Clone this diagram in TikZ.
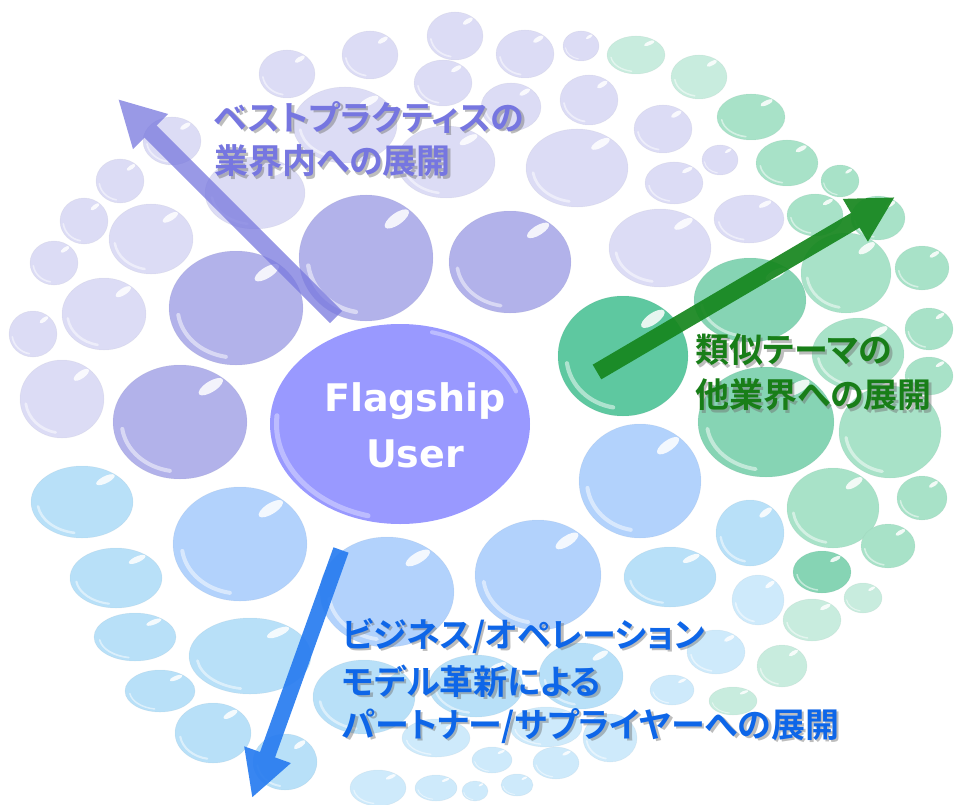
\documentclass[tikz,border=0pt]{standalone}
\usepackage{fontspec}
\usetikzlibrary{arrows.meta}
\newfontfamily\jpfont{Noto Sans CJK JP Bold}[RawFeature=+palt]
\newfontfamily\flagfont{DejaVu Sans}

% bubble palette
\definecolor{pl}{RGB}{220,220,245}
\definecolor{pm}{RGB}{178,178,234}
\definecolor{core}{RGB}{153,153,255}
\definecolor{gd}{RGB}{94,200,160}
\definecolor{gm}{RGB}{134,212,180}
\definecolor{gl}{RGB}{168,226,200}
\definecolor{gp}{RGB}{200,236,222}
\definecolor{bb}{RGB}{178,210,252}
\definecolor{bl}{RGB}{184,224,248}
\definecolor{bp}{RGB}{206,234,251}
% arrows and labels
\definecolor{arrP}{RGB}{120,120,222}
\definecolor{arrG}{RGB}{22,134,30}
\definecolor{arrB}{RGB}{40,124,240}
\definecolor{txtP}{RGB}{118,118,224}
\definecolor{txtG}{RGB}{24,126,24}
\definecolor{txtB}{RGB}{14,102,232}
\definecolor{shade}{RGB}{110,110,110}

% glossy bubble: centre x, centre y, x radius, y radius, colour
\newcommand\bubble[5]{%
  \begin{scope}[shift={(#1,#2)},xscale=#3,yscale=#4]
    \fill[#5] (0,0) circle[radius=1];
    \draw[white,opacity=.5,line width=#4*0.07pt,line cap=round]
      (100:.87) arc[start angle=100,end angle=172,radius=.87];
    \fill[white,opacity=.85] (.46,-.62) circle[x radius=.22,y radius=.09,rotate=38];
    \draw[#5!80!black,opacity=.18,line width=.5pt] (0,0) circle[radius=1];
  \end{scope}}

% label with a soft drop shadow: name, x, y, colour, text
\newcommand\shadowlabel[5]{%
  \node[lbl,text=shade,opacity=.45] (#1-s) at (#2+2.5,#3+2.5) {#5};
  \node[lbl,text=#4] (#1) at (#2,#3) {#5};}

\begin{document}
\begin{tikzpicture}[x=1pt,y=-1pt,
  lbl/.style={anchor=west,inner sep=0pt,font=\jpfont\fontsize{34}{40}\selectfont},
  bigarrow/.style={line width=17pt,-{Triangle[width=46pt,length=46pt]}}]
\useasboundingbox (0,0) rectangle (955,805);
\fill[white] (0,0) rectangle (955,805);

% outer ring, lavender
\foreach \x/\y/\a/\b in {455/36/28/24,525/54/29/24,581/46/18/15,370/55/28/24,287/74/28/24,
  443/83/29/23,345/125/52/38,511/107/30/24,589/100/29/25,663/129/29/24,720/160/18/15,
  674/183/29/21,577/168/51/39,749/219/35/24,660/248/51/39,446/162/49/36,255/193/50/36,
  172/141/29/24,120/181/24/22,84/221/24/23,151/239/42/35,54/263/24/22,104/314/42/36,
  33/334/24/23,62/399/42/39}
  {\bubble{\x}{\y}{\a}{\b}{pl}}

% outer ring, green
\foreach \x/\y/\a/\b in {636/55/29/19,699/77/28/22,812/620/29/21,863/598/19/15,782/666/25/21,733/701/24/14}
  {\bubble{\x}{\y}{\a}{\b}{gp}}
\foreach \x/\y/\a/\b in {751/117/34/23,787/163/31/23,840/181/19/16,815/215/28/21,878/218/27/22,
  846/273/45/40,922/268/27/22,929/329/24/21,858/354/46/36,929/376/24/19,890/432/51/46,
  833/508/46/40,922/498/25/22,888/546/27/22}
  {\bubble{\x}{\y}{\a}{\b}{gl}}
\bubble{822}{572}{29}{21}{gm}

% outer ring, blue
\foreach \x/\y/\a/\b in {758/600/26/25,716/652/29/22,672/690/22/15,436/738/34/19,492/760/20/13,
  546/727/36/20,556/763/23/16,610/738/27/24,378/788/28/18,436/788/21/13,475/791/13/10,517/785/16/11}
  {\bubble{\x}{\y}{\a}{\b}{bp}}
\foreach \x/\y/\a/\b in {82/502/51/36,116/578/46/30,135/637/41/24,250/656/61/38,160/691/35/21,
  213/733/38/30,285/762/32/28,364/697/51/37,670/577/46/30,750/533/34/33,581/676/42/33,476/686/47/31}
  {\bubble{\x}{\y}{\a}{\b}{bl}}

% inner ring
\foreach \x/\y/\a/\b in {236/308/67/57,366/258/67/63,510/262/61/51,180/422/67/57}
  {\bubble{\x}{\y}{\a}{\b}{pm}}
\foreach \x/\y/\a/\b in {240/544/67/57,387/592/67/55,538/575/63/55,640/481/61/57}
  {\bubble{\x}{\y}{\a}{\b}{bb}}
\bubble{750}{300}{56}{42}{gm}
\bubble{766}{422}{68}{55}{gm}
\bubble{623}{356}{65}{60}{gd}

% centre: flat ellipse with a faint rim light
\begin{scope}[shift={(400,424)},xscale=130,yscale=100]
  \fill[core] (0,0) circle[radius=1];
  \draw[white,opacity=.35,line width=5pt,line cap=round]
    (105:.95) arc[start angle=105,end angle=185,radius=.95];
  \draw[white,opacity=.35,line width=4pt,line cap=round]
    (-75:.95) arc[start angle=-75,end angle=-20,radius=.95];
\end{scope}
\node[font=\flagfont\bfseries\fontsize{38}{56}\selectfont,text=white,align=center] (flag) at (415,425) {Flagship\\User};

% directions of expansion
\coordinate (pS) at (336,317); \coordinate (pE) at (118,99);
\coordinate (gS) at (597,372); \coordinate (gE) at (895,197);
\coordinate (bS) at (341,550); \coordinate (bE) at (252,798);
\begin{scope}[transparency group,opacity=.75]
  \draw[bigarrow,arrP] (pS) -- (pE);
\end{scope}
\begin{scope}[transparency group,opacity=.92]
  \draw[bigarrow,arrG] (gS) -- (gE);
\end{scope}
\begin{scope}[transparency group,opacity=.92]
  \draw[bigarrow,arrB,line width=16pt] (bS) -- (bE);
\end{scope}

% labels
\shadowlabel{p1}{214}{117}{txtP}{ベストプラクティスの}
\shadowlabel{p2}{214}{161}{txtP}{業界内への展開}
\shadowlabel{g1}{695}{350}{txtG}{類似テーマの}
\shadowlabel{g2}{695}{395}{txtG}{他業界への展開}
\shadowlabel{b1}{342}{636}{txtB}{ビジネス/オペレーション}
\shadowlabel{b2}{342}{681}{txtB}{モデル革新による}
\shadowlabel{b3}{342}{726}{txtB}{パートナー/サプライヤーへの展開}
\end{tikzpicture}
\end{document}
